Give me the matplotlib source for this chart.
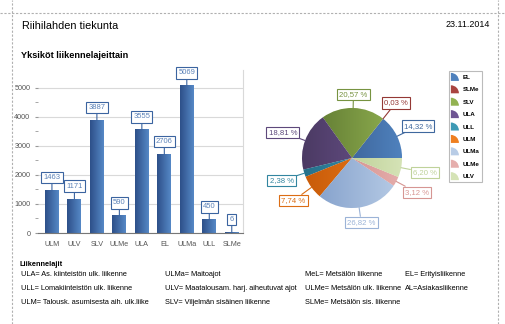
import numpy as np
import matplotlib.pyplot as plt
from matplotlib.patches import Wedge
from matplotlib.lines import Line2D
from matplotlib.legend_handler import HandlerPatch
from matplotlib.colors import to_rgb

plt.rcParams['font.family'] = ['Liberation Sans', 'DejaVu Sans']

# data
bar_labels = ["ULM", "ULV", "SLV", "ULMe", "ULA", "EL", "ULMa", "ULL", "SLMe"]
bar_values = [1463, 1171, 3887, 590, 3555, 2706, 5069, 450, 6]

pie_labels = ["EL", "SLMe", "SLV", "ULA", "ULL", "ULM", "ULMa", "ULMe", "ULV"]
pie_values = [dict(zip(bar_labels, bar_values))[k] for k in pie_labels]
pie_colors = [("#2f4f7f", "#4f81bd"), ("#7f2c2a", "#a94440"), ("#5c7530", "#92b251"),
              ("#4b3a63", "#6f5693"), ("#25708a", "#3e9ab5"), ("#c75a08", "#ee7f20"),
              ("#7d9bc8", "#b8cce6"), ("#c77d7a", "#e5aeac"), ("#a9c07d", "#d5e3b6")]

legend_rows = [
    ("ULA= As. kiinteistön ulk. liikenne", "ULMa= Maitoajot", "MeL= Metsälön liikenne", "EL= Erityisliikenne"),
    ("ULL= Lomakiinteistön ulk. liikenne", "ULV= Maatalousam. harj. aiheutuvat ajot", "ULMe= Metsälön ulk. liikenne", "AL=Asiakasliikenne"),
    ("ULM= Talousk. asumisesta aih. ulk.liike", "SLV= Viljelmän sisäinen liikenne", "SLMe= Metsälön sis. liikenne", ""),
]

W, H = 505, 324


def fx(px):
    return px / W


def fy(py):
    return 1 - py / H


def grad(c1, c2, n=64):
    a, b = np.array(to_rgb(c1)), np.array(to_rgb(c2))
    t = np.linspace(0, 1, n)[None, :, None]
    return a + (b - a) * t


fig = plt.figure(figsize=(W / 100, H / 100), dpi=100)

# page borders
for ln in [([0, 1], [fy(13)] * 2), ([fx(12)] * 2, [0, 1]), ([fx(497.5)] * 2, [0, 1])]:
    fig.add_artist(Line2D(ln[0], ln[1], transform=fig.transFigure, color="#b0b0b0",
                          lw=0.8, ls=(0, (2, 1.5))))

fig.text(fx(22), fy(26), "Riihilahden tiekunta", fontsize=7.8, va="center", ha="left")
fig.text(fx(490), fy(24.5), "23.11.2014", fontsize=6.4, va="center", ha="right")
fig.text(fx(21), fy(56), "Yksiköt liikennelajeittain", fontsize=6.6, fontweight="bold",
         va="center", ha="left")

# bar chart
ax = fig.add_axes([fx(38), fy(233), fx(243) - fx(38), fy(70) - fy(233)])
x = np.arange(len(bar_labels))
bw = 0.62
bars = ax.bar(x, bar_values, width=bw, color="#3f6aa6", zorder=2)
for b in bars:
    x0, y0 = b.get_x(), b.get_y()
    ax.imshow(grad("#2d5089", "#5688c6"), extent=(x0, x0 + b.get_width(), y0, y0 + b.get_height()),
              aspect="auto", zorder=2.1, interpolation="bilinear")
for xi, v in zip(x, bar_values):
    ax.annotate(str(v), xy=(xi, v), xytext=(0, 13), textcoords="offset pixels",
                ha="center", va="center", fontsize=5.5, color="#5b82b8",
                bbox=dict(boxstyle="square,pad=0.28", fc="white", ec="#3b64a0", lw=0.8),
                arrowprops=dict(arrowstyle="-", color="#3b64a0", lw=0.8, shrinkA=0, shrinkB=0),
                zorder=3)
ax.set_xlim(-0.62, 8.5)
ax.set_ylim(0, 5620)
ax.set_yticks(range(0, 5001, 1000))
ax.set_yticks(range(500, 5001, 1000), minor=True)
ax.set_xticks(x)
ax.set_xticklabels(bar_labels)
ax.tick_params(axis="y", which="both", length=2.5, color="#999999", labelsize=5.2,
               labelcolor="#555555", pad=3)
ax.tick_params(axis="x", length=0, labelsize=5.2, labelcolor="#555555", pad=5.5)
ax.grid(axis="y", color="#d9d9d9", lw=0.8, zorder=0)
ax.set_axisbelow(True)
ax.spines["top"].set_visible(False)
ax.spines["left"].set_visible(False)
ax.spines["right"].set_color("#d9d9d9")
ax.spines["bottom"].set_color("#777777")

# pie chart
pax = fig.add_axes([fx(252), fy(258), fx(452) - fx(252), fy(58) - fy(258)])
wedges, _ = pax.pie(pie_values, colors=[c[1] for c in pie_colors], startangle=0,
                    counterclock=True, wedgeprops=dict(edgecolor="white", linewidth=0.5))
for w, (c1, c2) in zip(wedges, pie_colors):
    im = pax.imshow(grad(c1, c2), extent=(-1, 1, -1, 1), zorder=w.get_zorder() + 0.1,
                    interpolation="bilinear")
    im.set_clip_path(w)
total = sum(pie_values)
for w, v, (c1, c2) in zip(wedges, pie_values, pie_colors):
    mid = np.deg2rad((w.theta1 + w.theta2) / 2)
    c, s = np.cos(mid), np.sin(mid)
    r = 1.27 + 0.22 * abs(c)
    col = tuple((np.array(to_rgb(c1)) + np.array(to_rgb(c2))) / 2)
    txt = f"{100 * v / total:.2f} %".replace(".", ",")
    pax.annotate(txt, xy=(c, s), xytext=(r * c, r * s), ha="center", va="center",
                 fontsize=5.6, color=col,
                 bbox=dict(boxstyle="square,pad=0.28", fc="white", ec=col, lw=0.8),
                 arrowprops=dict(arrowstyle="-", color=col, lw=0.8, shrinkA=0, shrinkB=0))
pax.set_xlim(-2, 2)
pax.set_ylim(-2, 2)
pax.set_aspect("equal")
pax.axis("off")


def wedge_icon(legend, orig_handle, xdescent, ydescent, width, height, fontsize):
    return Wedge((-xdescent, -ydescent), height, 0, 90)


handles = [Wedge((0, 0), 1, 0, 90, facecolor=c[1]) for c in pie_colors]
leg = fig.legend(handles, pie_labels, loc="upper left", bbox_to_anchor=(fx(449), fy(71)),
                 handler_map={Wedge: HandlerPatch(patch_func=wedge_icon)},
                 fontsize=4.5, frameon=True, fancybox=False, edgecolor="#aaaaaa",
                 handlelength=1.5, handleheight=1.6, labelspacing=0.7, handletextpad=0.4,
                 borderpad=0.3, borderaxespad=0)
for t in leg.get_texts():
    t.set_fontweight("bold")
leg.get_frame().set_linewidth(0.8)

# bottom text
fig.text(fx(20), fy(265), "Liikennelajit", fontsize=5.3, fontweight="bold", va="center")
col_x = [21, 165, 305, 405]
row_y = [275, 289, 302]
for yi, row in zip(row_y, legend_rows):
    for xi, t in zip(col_x, row):
        fig.text(fx(xi), fy(yi), t, fontsize=5.3, va="center", ha="left")

fig.savefig("out.png", dpi=100)
